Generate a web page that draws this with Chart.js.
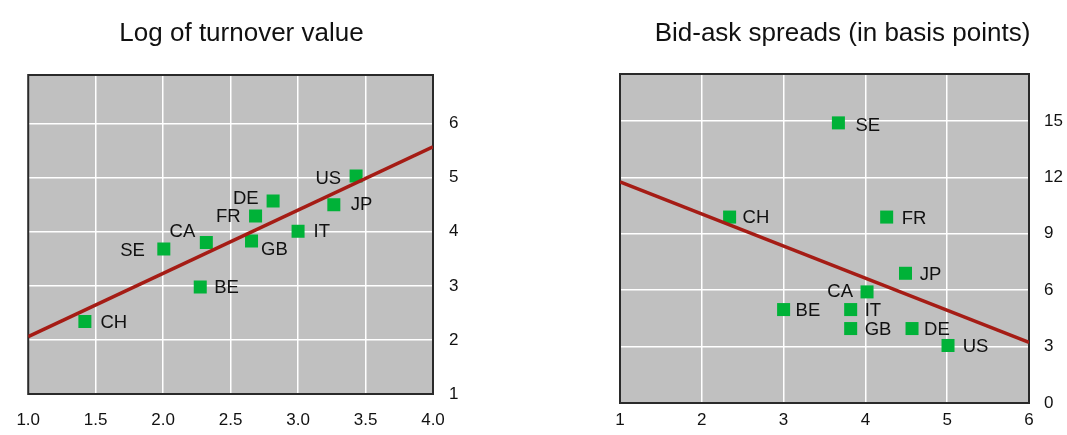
<!DOCTYPE html>
<html>
<head>
<meta charset="utf-8">
<script src="https://cdn.jsdelivr.net/npm/chart.js@4"></script>
<style>
  html, body { margin: 0; padding: 0; background: #fff; }
  #wrap { position: relative; width: 1067px; height: 435px; overflow: hidden; }
  .box { position: absolute; top: 0; height: 435px; }
</style>
</head>
<body>
<div id="wrap">
  <div class="box" style="left:0;width:490px"><canvas id="turnoverChart"></canvas></div>
  <div class="box" style="left:535px;width:532px"><canvas id="spreadChart"></canvas></div>
</div>
<script>
// data
const countries = ['BE', 'CA', 'CH', 'DE', 'FR', 'GB', 'IT', 'JP', 'SE', 'US'];

const turnoverX = [2.275, 2.32, 1.42, 2.815, 2.685, 2.655, 3.0, 3.265, 2.005, 3.43];
const turnoverY = [2.98, 3.80, 2.34, 4.57, 4.29, 3.83, 4.01, 4.50, 3.68, 5.03];
const turnoverFitX = [1.0, 4.0];
const turnoverFitY = [2.06, 5.57];
const turnoverXTicks = [1.0, 4.0, 0.5];   // min, max, step
const turnoverYTicks = [1, 6.9, 1];

const spreadX = [3.0, 4.02, 2.34, 4.57, 4.26, 3.82, 3.82, 4.49, 3.67, 5.01];
const spreadY = [4.97, 5.91, 9.89, 3.96, 9.89, 3.96, 4.97, 6.9, 14.9, 3.06];
const spreadFitX = [1, 6];
const spreadFitY = [11.76, 3.22];
const spreadXTicks = [1, 6, 1];
const spreadYTicks = [0, 17.5, 3];

// label placement next to each marker: [dx, dy, align]
const turnoverLabelPos = {
  BE: [14, 1, 'left'], CA: [-11, -10.5, 'right'], CH: [15.5, 1, 'left'],
  DE: [-14.5, -2.5, 'right'], FR: [-15, 1.2, 'right'], GB: [9.5, 9, 'left'],
  IT: [15.5, 1, 'left'], JP: [17, 0.5, 'left'], SE: [-19, 1.5, 'right'],
  US: [-15, 2.5, 'right']
};
const spreadLabelPos = {
  BE: [12, 1, 'left'], CA: [-14, 0.5, 'right'], CH: [13, 0.5, 'left'],
  DE: [12, 1.5, 'left'], FR: [15, 1.5, 'left'], GB: [14, 1.5, 'left'],
  IT: [14, 1, 'left'], JP: [14.3, 1.2, 'left'], SE: [17, 2.7, 'left'],
  US: [14.7, 1.4, 'left']
};

const FONT = "'Liberation Sans', Arial, Helvetica, sans-serif";
const TEXT = '#111';

// grey plot background and dark frame
const plotFrame = {
  id: 'plotFrame',
  beforeDraw(chart) {
    const { ctx, chartArea: a } = chart;
    ctx.save();
    ctx.fillStyle = '#c0c0c0';
    ctx.fillRect(a.left, a.top, a.right - a.left, a.bottom - a.top);
    ctx.restore();
  },
  beforeDatasetsDraw(chart) {
    const { ctx, chartArea: a } = chart;
    ctx.save();
    ctx.strokeStyle = '#2a2a2a';
    ctx.lineWidth = 2;
    ctx.strokeRect(a.left, a.top, a.right - a.left, a.bottom - a.top);
    ctx.restore();
  }
};

// country codes beside the markers
const pointNames = {
  id: 'pointNames',
  afterDatasetsDraw(chart, args, opts) {
    const { ctx } = chart;
    const meta = chart.getDatasetMeta(1);
    ctx.save();
    ctx.font = '18.5px ' + FONT;
    ctx.fillStyle = TEXT;
    ctx.textBaseline = 'middle';
    meta.data.forEach((pt, i) => {
      const name = countries[i];
      const [dx, dy, align] = opts.pos[name];
      ctx.textAlign = align;
      ctx.fillText(name, pt.x + dx, pt.y + dy);
    });
    ctx.restore();
  }
};

function makeChart(id, cfg) {
  const fit = cfg.fitX.map((x, i) => ({ x: x, y: cfg.fitY[i] }));
  const pts = cfg.xs.map((x, i) => ({ x: x, y: cfg.ys[i] }));
  return new Chart(document.getElementById(id), {
    type: 'scatter',
    data: {
      datasets: [
        {
          type: 'line',
          data: fit,
          borderColor: '#a51c15',
          borderWidth: 3.5,
          pointRadius: 0,
          fill: false
        },
        {
          data: pts,
          pointStyle: 'rect',
          pointRadius: 9.2,
          pointHoverRadius: 9.2,
          backgroundColor: '#00b238',
          borderWidth: 0
        }
      ]
    },
    options: {
      responsive: true,
      maintainAspectRatio: false,
      animation: false,
      events: [],
      layout: { padding: cfg.padding },
      plugins: {
        legend: { display: false },
        tooltip: { enabled: false },
        title: {
          display: true,
          text: cfg.title,
          color: TEXT,
          font: { family: FONT, size: 26, weight: 'normal' },
          padding: { top: 18, bottom: cfg.titleGap }
        },
        pointNames: { pos: cfg.labelPos }
      },
      scales: {
        x: {
          type: 'linear',
          min: cfg.xTicks[0],
          max: cfg.xTicks[1],
          grid: { color: '#ffffff', lineWidth: 1.5, drawTicks: false },
          border: { display: false },
          ticks: {
            stepSize: cfg.xTicks[2],
            includeBounds: false,
            padding: cfg.xPad,
            color: TEXT,
            font: { family: FONT, size: 17 },
            maxRotation: 0,
            callback: cfg.xFormat
          },
          afterFit: s => { s.height = cfg.xHeight; }
        },
        y: {
          type: 'linear',
          position: 'right',
          min: cfg.yTicks[0],
          max: cfg.yTicks[1],
          grid: { color: '#ffffff', lineWidth: 1.5, drawTicks: false },
          border: { display: false },
          ticks: {
            stepSize: cfg.yTicks[2],
            includeBounds: false,
            padding: cfg.yPad,
            color: TEXT,
            font: { family: FONT, size: 17 }
          },
          afterFit: s => { s.width = cfg.yWidth; }
        }
      }
    },
    plugins: [plotFrame, pointNames]
  });
}

// 1. Log of turnover value
makeChart('turnoverChart', {
  title: 'Log of turnover value',
  xs: turnoverX, ys: turnoverY,
  fitX: turnoverFitX, fitY: turnoverFitY,
  xTicks: turnoverXTicks, yTicks: turnoverYTicks,
  labelPos: turnoverLabelPos,
  xFormat: v => Number(v).toFixed(1),
  padding: { left: 23, right: 30, top: 0, bottom: 0 },
  titleGap: 25.8,
  xHeight: 41, xPad: 16.4,
  yWidth: 27, yPad: 16
});

// 2. Bid-ask spreads
makeChart('spreadChart', {
  title: 'Bid-ask spreads (in basis points)',
  xs: spreadX, ys: spreadY,
  fitX: spreadFitX, fitY: spreadFitY,
  xTicks: spreadXTicks, yTicks: spreadYTicks,
  labelPos: spreadLabelPos,
  xFormat: v => String(v),
  padding: { left: 85, right: 2, top: 0, bottom: 0 },
  titleGap: 24.8,
  xHeight: 32, xPad: 7.4,
  yWidth: 36, yPad: 15
});
</script>
</body>
</html>
